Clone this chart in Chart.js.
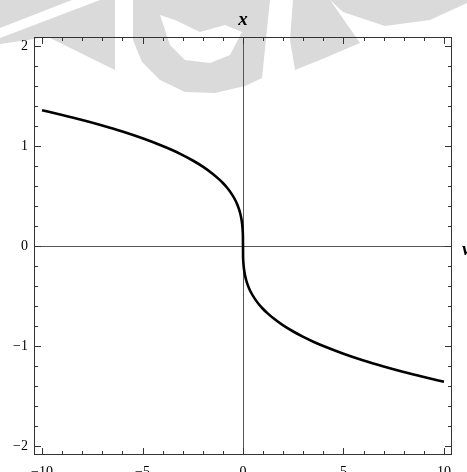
<!DOCTYPE html>
<html>
<head>
<meta charset="utf-8">
<script src="https://cdn.jsdelivr.net/npm/chart.js@4"></script>
<style>
  body { margin: 0; background: #fff; }
  #wrap { width: 467px; height: 472px; }
</style>
</head>
<body>
<div id="wrap"><canvas id="myChart" width="467" height="472"></canvas></div>
<script>
// curve values
var vValues = [-10, -9, -8, -7, -6, -5, -4, -3.5, -3, -2.5, -2, -1.5, -1.2, -1, -0.8, -0.6, -0.4, -0.3, -0.2, -0.15, -0.1, -0.07, -0.04, -0.02, -0.01, -0.003, 0,
               0.003, 0.01, 0.02, 0.04, 0.07, 0.1, 0.15, 0.2, 0.3, 0.4, 0.6, 0.8, 1, 1.2, 1.5, 2, 2.5, 3, 3.5, 4, 5, 6, 7, 8, 9, 10];
var xValues = [1.357, 1.31, 1.26, 1.205, 1.145, 1.077, 1.0, 0.957, 0.909, 0.855, 0.794, 0.721, 0.669, 0.63, 0.585, 0.531, 0.465, 0.422, 0.368, 0.335, 0.292, 0.259, 0.215, 0.171, 0.136, 0.09, 0,
               -0.09, -0.136, -0.171, -0.215, -0.259, -0.292, -0.335, -0.368, -0.422, -0.465, -0.531, -0.585, -0.63, -0.669, -0.721, -0.794, -0.855, -0.909, -0.957, -1.0, -1.077, -1.145, -1.205, -1.26, -1.31, -1.357];

// tick labels
var vTicks = [-10, -5, 0, 5, 10];
var xTicks = [-2, -1, 0, 1, 2];

var points = vValues.map(function (v, i) { return { x: v, y: xValues[i] }; });

function fmt(n) { return n < 0 ? '\u2212' + Math.abs(n) : String(n); }

// light gray watermark behind the plot
var watermark = {
  id: 'watermark',
  beforeDraw: function (chart) {
    var c = chart.ctx;
    c.save();
    c.fillStyle = '#fff';
    c.fillRect(0, 0, chart.width, chart.height);
    function poly(pts, col) {
      c.fillStyle = col;
      c.beginPath();
      c.moveTo(pts[0][0], pts[0][1]);
      for (var i = 1; i < pts.length; i++) c.lineTo(pts[i][0], pts[i][1]);
      c.closePath();
      c.fill();
    }
    var g = '#dadada';
    poly([[0, 0], [72, 0], [0, 28]], g);
    poly([[0, 38], [100, 0], [115, 0], [115, 70], [48, 37], [0, 44]], g);
    poly([[133, 0], [270, 0], [262, 78], [245, 86], [215, 93], [185, 92], [160, 80], [142, 62], [133, 40]], g);
    poly([[160, 15], [170, 45], [185, 60], [210, 63], [230, 55], [242, 32], [225, 25], [200, 32], [175, 20]], '#fff');
    poly([[293, 0], [330, 0], [360, 43], [320, 60], [295, 70], [290, 40]], g);
    poly([[330, 0], [467, 0], [467, 3], [430, 20], [385, 26], [343, 12]], g);
    c.restore();
  }
};

// frame, inside ticks, axes through the origin and axis names
var frame = {
  id: 'frame',
  beforeDatasetsDraw: function (chart) {
    var c = chart.ctx, a = chart.chartArea;
    var sx = chart.scales.x, sy = chart.scales.y;
    c.save();
    c.strokeStyle = '#555';
    c.lineWidth = 1;
    c.beginPath();
    c.moveTo(sx.getPixelForValue(0) + 0.5, a.top);
    c.lineTo(sx.getPixelForValue(0) + 0.5, a.bottom);
    c.moveTo(a.left, Math.round(sy.getPixelForValue(0)) + 0.5);
    c.lineTo(a.right, Math.round(sy.getPixelForValue(0)) + 0.5);
    c.stroke();
    c.restore();
  },
  afterDraw: function (chart) {
    var c = chart.ctx, a = chart.chartArea;
    var sx = chart.scales.x, sy = chart.scales.y;
    c.save();
    c.strokeStyle = '#333';
    c.lineWidth = 1;
    c.strokeRect(a.left + 0.5, a.top + 0.5, a.right - a.left - 1, a.bottom - a.top - 1);
    c.beginPath();
    for (var v = -10; v <= 10; v++) {
      var px = Math.round(sx.getPixelForValue(v)) + 0.5;
      var len = v % 5 === 0 ? 7 : 4;
      c.moveTo(px, a.bottom); c.lineTo(px, a.bottom - len);
      c.moveTo(px, a.top); c.lineTo(px, a.top + len);
    }
    for (var k = -10; k <= 10; k++) {
      var py = Math.round(sy.getPixelForValue(k / 5)) + 0.5;
      var l2 = k % 5 === 0 ? 7 : 4;
      c.moveTo(a.left, py); c.lineTo(a.left + l2, py);
      c.moveTo(a.right, py); c.lineTo(a.right - l2, py);
    }
    c.stroke();
    c.fillStyle = '#000';
    c.font = 'italic bold 19px "Liberation Serif"';
    c.textAlign = 'center';
    c.textBaseline = 'alphabetic';
    c.fillText('x', sx.getPixelForValue(0), 25);
    c.textAlign = 'left';
    c.fillText('v', a.right + 10, sy.getPixelForValue(0) + 9);
    c.restore();
  }
};

var ctx = document.getElementById('myChart').getContext('2d');
var chart = new Chart(ctx, {
  type: 'line',
  data: {
    datasets: [{
      data: points,
      borderColor: '#000',
      borderWidth: 2.6,
      borderJoinStyle: 'round',
      pointRadius: 0,
      fill: false,
      cubicInterpolationMode: 'monotone'
    }]
  },
  options: {
    responsive: false,
    animation: false,
    layout: { padding: { top: 37, right: 15, left: 0, bottom: 0 } },
    plugins: { legend: { display: false }, tooltip: { enabled: false } },
    scales: {
      x: {
        type: 'linear',
        min: -10.4,
        max: 10.4,
        grid: { display: false, drawTicks: false },
        border: { display: false },
        afterBuildTicks: function (axis) { axis.ticks = vTicks.map(function (v) { return { value: v }; }); },
        afterFit: function (axis) { axis.height = 17; },
        ticks: {
          padding: 9,
          maxRotation: 0,
          autoSkip: false,
          color: '#000',
          font: { family: 'Liberation Serif', size: 14 },
          callback: function (v) { return fmt(v); }
        }
      },
      y: {
        type: 'linear',
        min: -2.09,
        max: 2.09,
        grid: { display: false, drawTicks: false },
        border: { display: false },
        afterBuildTicks: function (axis) { axis.ticks = xTicks.map(function (v) { return { value: v }; }); },
        afterFit: function (axis) { axis.width = 34; },
        ticks: {
          padding: 6,
          autoSkip: false,
          color: '#000',
          font: { family: 'Liberation Serif', size: 14 },
          callback: function (v) { return fmt(v); }
        }
      }
    }
  },
  plugins: [watermark, frame]
});
</script>
</body>
</html>
